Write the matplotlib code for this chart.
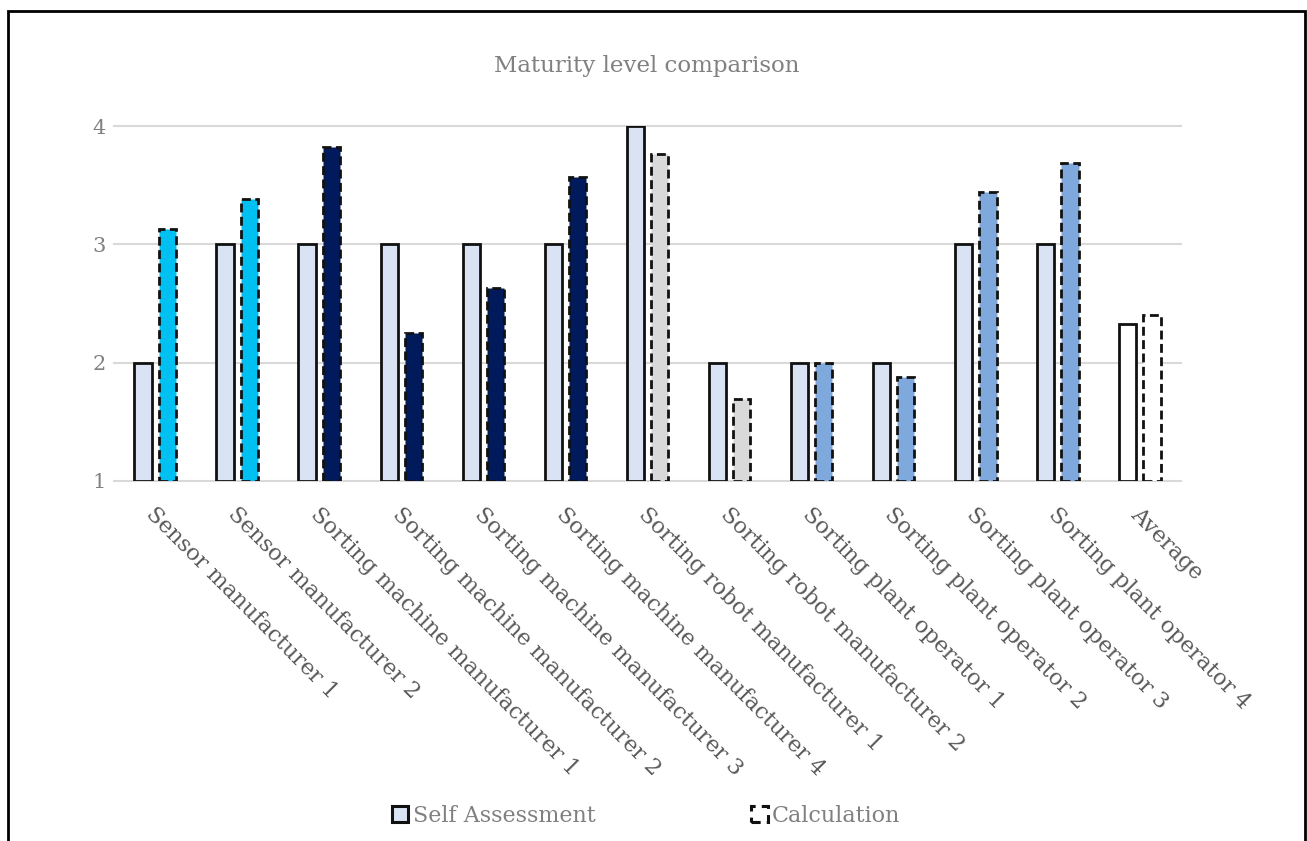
import matplotlib
matplotlib.use("Agg")
import matplotlib.pyplot as plt
from matplotlib.patches import Patch, Rectangle
import numpy as np

categories = ["Sensor manufacturer 1", "Sensor manufacturer 2",
              "Sorting machine manufacturer 1", "Sorting machine manufacturer 2",
              "Sorting machine manufacturer 3", "Sorting machine manufacturer 4",
              "Sorting robot manufacturer 1", "Sorting robot manufacturer 2",
              "Sorting plant operator 1", "Sorting plant operator 2",
              "Sorting plant operator 3", "Sorting plant operator 4", "Average"]
self_assessment = [2, 3, 3, 3, 3, 3, 4, 2, 2, 2, 3, 3, 2.33]
calculation = [3.13, 3.38, 3.82, 2.25, 2.63, 3.57, 3.76, 1.69, 2.0, 1.875, 3.44, 3.69, 2.40]
self_colors = ["#dae3f3"] * 12 + ["#ffffff"]
calc_colors = ["#00c0f2", "#00c0f2", "#001a5c", "#001a5c", "#001a5c", "#001a5c",
               "#d9d9d9", "#d9d9d9", "#7fa8dc", "#7fa8dc", "#7fa8dc", "#7fa8dc", "#ffffff"]
yticks = [1, 2, 3, 4]

W, H = 1307, 841
fig = plt.figure(figsize=(W / 100, H / 100), dpi=100)
ax = fig.add_axes([114 / W, 1 - 481 / H, (1181 - 114) / W, (481 - 126) / H])

font = "DejaVu Serif"
txt_color = "#595959"
x = np.arange(len(categories))
bw = 0.21
off = 0.148
base = 1.0
lw = 2.0
ax.bar(x - off, np.array(self_assessment) - base, bw, bottom=base, color=self_colors,
       edgecolor="#111111", linewidth=lw, zorder=3)
ax.bar(x + off, np.array(calculation) - base, bw, bottom=base, color=calc_colors,
       edgecolor="#111111", linewidth=lw, linestyle=(0, (3.2, 1.6)), zorder=3)

for yv in yticks:
    ax.axhline(yv, color="#d9d9d9", lw=1.5, zorder=0, clip_on=False)

ax.set_xlim(-0.5, len(categories) - 0.5)
ax.set_ylim(1, 4)
for s in ax.spines.values():
    s.set_visible(False)
ax.set_yticks(yticks)
ax.set_yticklabels([str(v) for v in yticks], fontfamily=font, fontsize=15, color="#808080")
ax.tick_params(axis="y", length=0, pad=6)
ax.set_xticks(x)
ax.set_xticklabels([])
ax.tick_params(axis="x", length=0)

for xi, lab in zip(x, categories):
    ax.annotate(lab, xy=(xi, 1), xycoords="data", xytext=(2, -22), textcoords="offset pixels",
                rotation=-45, ha="left", va="top", rotation_mode="anchor",
                fontfamily=font, fontsize=16, color=txt_color)

fig.text((497 + 797) / 2 / W, 1 - 66 / H, "Maturity level comparison", ha="center", va="center",
         fontfamily=font, fontsize=16.5, color="#808080")

handles = [Patch(facecolor="#dae3f3", edgecolor="#111111", linewidth=2.2, label="Self Assessment"),
           Patch(facecolor="#ffffff", edgecolor="#111111", linewidth=2.2, linestyle=(0, (3, 2)),
                 label="Calculation")]
fig.legend(handles=handles, loc="center", bbox_to_anchor=(646 / W, 1 - 816 / H), ncol=2,
           frameon=False, prop={"family": font, "size": 16}, labelcolor="#808080",
           handlelength=0.75, handleheight=0.75, handletextpad=0.2, columnspacing=7.0)

fig.patches.append(Rectangle((8 / W, -0.2), (1305 - 8) / W, 1.2 - 11 / H,
                             transform=fig.transFigure, fill=False, edgecolor="black",
                             linewidth=2, figure=fig))

fig.savefig("out.png", dpi=100, facecolor="white")
